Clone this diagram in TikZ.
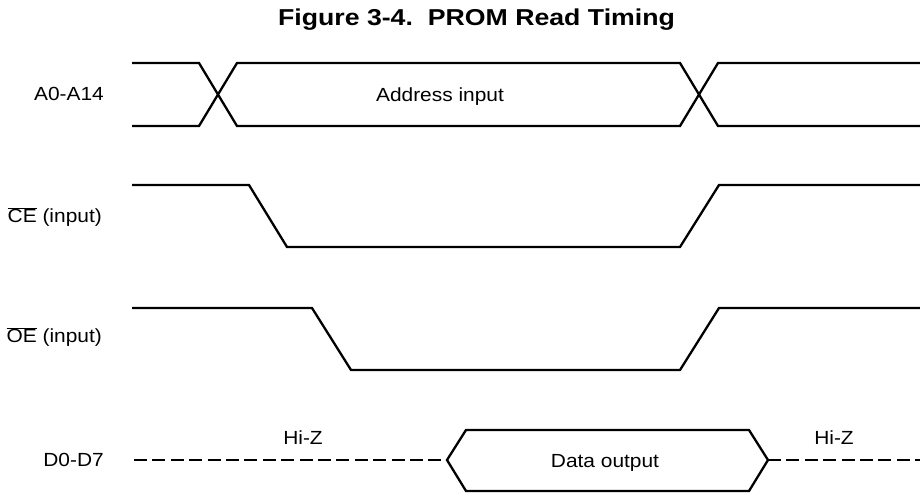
\documentclass[tikz,border=0pt]{standalone}
\usepackage{fontspec}
\setmainfont{Liberation Sans}[FakeStretch=1.1]
\newfontfamily\titlefont{Liberation Sans}[FakeStretch=1.16]
\begin{document}
\begin{tikzpicture}[x=1pt,y=-1pt,
  wave/.style={draw,line width=2.3pt,line join=miter},
  hiz/.style={wave,dash pattern=on 13pt off 5.4pt},
  sig/.style={inner sep=0pt,anchor=base east,font=\fontsize{19}{22}\selectfont},
  txt/.style={inner sep=0pt,anchor=base,font=\fontsize{19}{22}\selectfont}]
\useasboundingbox (0,0) rectangle (920,495);

\node[inner sep=0pt,anchor=base,font=\titlefont\bfseries\fontsize{23}{26}\selectfont] (title) at (476.5,26) {Figure 3-4.\ \ PROM Read Timing};

% signal names
\node[sig] (a) at (104,100.7) {A0-A14};
\node[sig] (ce) at (102,222.7) {$\overline{\mbox{CE}}$ (input)};
\node[sig] (oe) at (102,342.7) {$\overline{\mbox{OE}}$ (input)};
\node[sig] (d) at (104,466.5) {D0-D7};

% address bus
\path[wave] (132,63) -- (199,63) -- (237,126) -- (680,126) -- (718,63) -- (920,63);
\path[wave] (132,126) -- (199,126) -- (237,63) -- (680,63) -- (718,126) -- (920,126);
\node[txt] (addr) at (440,101.5) {Address input};

% chip enable
\path[wave] (132,185) -- (249,185) -- (287,247) -- (680,247) -- (719,185) -- (920,185);

% output enable
\path[wave] (132,308) -- (312,308) -- (351,370) -- (680,370) -- (719,308) -- (920,308);

% data bus
\path[hiz] (134,460) -- (447,460);
\path[wave] (447,460) -- (466,430) -- (749,430) -- (768,460) -- (749,491) -- (466,491) -- cycle;
\path[hiz] (768,460) -- (920,460);
\node[txt] (data) at (605,467) {Data output};
\node[txt] (z1) at (303,444.5) {Hi-Z};
\node[txt] (z2) at (834,444.5) {Hi-Z};
\end{tikzpicture}
\end{document}
